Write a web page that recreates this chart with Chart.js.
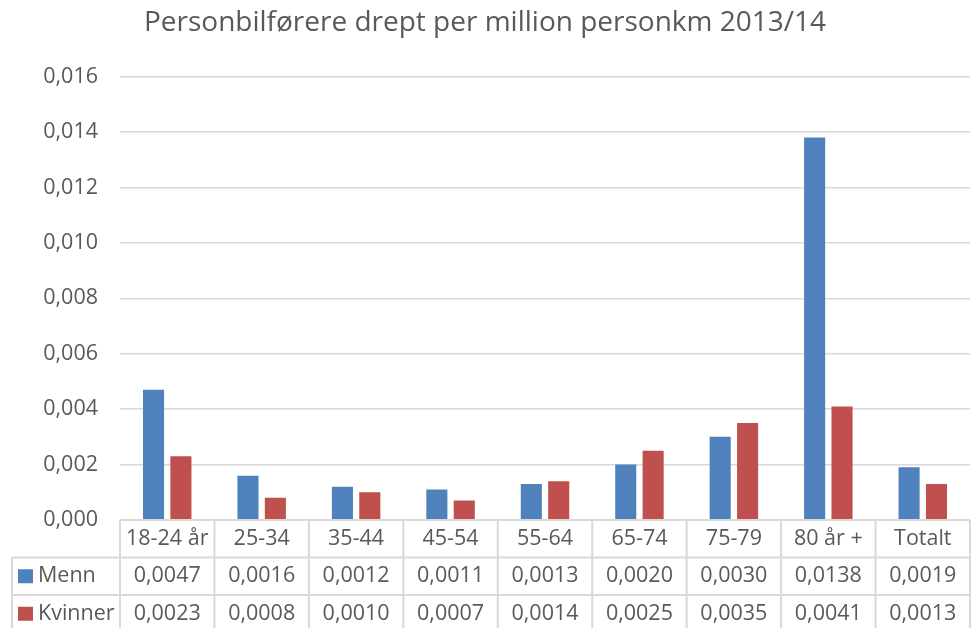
<!DOCTYPE html>
<html>
<head>
<meta charset="utf-8">
<script src="https://cdn.jsdelivr.net/npm/chart.js@4/dist/chart.umd.min.js"></script>
<style>
  html, body { margin: 0; padding: 0; background: #fff; }
  #wrap { width: 971px; height: 628px; position: relative; }
</style>
</head>
<body>
<div id="wrap"><canvas id="chart"></canvas></div>
<script>
// data
const categories = ['18-24 år', '25-34', '35-44', '45-54', '55-64', '65-74', '75-79', '80 år +', 'Totalt'];
const menn = [0.0047, 0.0016, 0.0012, 0.0011, 0.0013, 0.0020, 0.0030, 0.0138, 0.0019];
const kvinner = [0.0023, 0.0008, 0.0010, 0.0007, 0.0014, 0.0025, 0.0035, 0.0041, 0.0013];
const seriesNames = ['Menn', 'Kvinner'];
const yMax = 0.016;
const yStep = 0.002;

const textColor = '#595959';
const gridColor = '#D9D9D9';
const fontFamily = '"Open Sans", sans-serif';
const colors = ['#4F81BD', '#C0504D'];

function fmt(v, d) {
    return v.toFixed(d).replace('.', ',');
}

// datatabell under diagrammet
const dataTablePlugin = {
    id: 'dataTable',
    afterDraw(chart) {
        const ctx = chart.ctx;
        const area = chart.chartArea;
        const n = categories.length;
        const w = (area.right - area.left) / n;
        const rowH = 37.5;
        const legendLeft = 12;
        const rows = [menn, kvinner];

        ctx.save();
        ctx.strokeStyle = gridColor;
        ctx.lineWidth = 2;
        ctx.beginPath();
        // akselinje / topp av tabell
        ctx.moveTo(area.left, area.bottom);
        ctx.lineTo(area.right, area.bottom);
        for (let r = 1; r <= 2; r++) {
            const y = area.bottom + r * rowH;
            ctx.moveTo(legendLeft, y);
            ctx.lineTo(area.right, y);
        }
        for (let i = 0; i <= n; i++) {
            const x = area.left + i * w;
            ctx.moveTo(x, area.bottom);
            ctx.lineTo(x, chart.height);
        }
        ctx.moveTo(legendLeft, area.bottom + rowH);
        ctx.lineTo(legendLeft, chart.height);
        ctx.stroke();

        ctx.fillStyle = textColor;
        ctx.font = '21.5px ' + fontFamily;
        ctx.textAlign = 'center';
        ctx.textBaseline = 'middle';
        for (let i = 0; i < n; i++) {
            const cx = area.left + (i + 0.5) * w;
            ctx.fillText(categories[i], cx, area.bottom + rowH / 2);
            for (let r = 0; r < rows.length; r++) {
                ctx.fillText(fmt(rows[r][i], 4), cx, area.bottom + (r + 1.5) * rowH);
            }
        }

        // forklaring
        ctx.textAlign = 'left';
        for (let r = 0; r < rows.length; r++) {
            const cy = area.bottom + (r + 1.5) * rowH;
            ctx.fillStyle = colors[r];
            ctx.fillRect(18, cy - 7, 15, 14);
            ctx.fillStyle = textColor;
            ctx.fillText(seriesNames[r], 38, cy);
        }
        ctx.restore();
    }
};

new Chart(document.getElementById('chart'), {
    type: 'bar',
    data: {
        labels: categories,
        datasets: [
            { label: seriesNames[0], data: menn, backgroundColor: colors[0] },
            { label: seriesNames[1], data: kvinner, backgroundColor: colors[1] }
        ]
    },
    options: {
        responsive: true,
        maintainAspectRatio: false,
        animation: false,
        datasets: {
            bar: { categoryPercentage: 0.58, barPercentage: 0.77 }
        },
        layout: { padding: { left: 0, right: 1, top: 0, bottom: 108 } },
        plugins: {
            legend: { display: false },
            tooltip: { enabled: false },
            title: {
                display: true,
                text: 'Personbilførere drept per million personkm 2013/14',
                color: textColor,
                font: { family: fontFamily, size: 28, weight: 'normal' },
                padding: { top: 6, bottom: 37 }
            }
        },
        scales: {
            x: { display: false },
            y: {
                min: 0,
                max: yMax,
                afterFit(scale) { scale.width = 120; },
                ticks: {
                    stepSize: yStep,
                    padding: 22,
                    color: textColor,
                    font: { family: fontFamily, size: 21.5 },
                    callback: v => fmt(v, 3)
                },
                border: { display: false },
                grid: { color: gridColor, lineWidth: 1.5, drawTicks: false }
            }
        }
    },
    plugins: [dataTablePlugin]
});
</script>
</body>
</html>
